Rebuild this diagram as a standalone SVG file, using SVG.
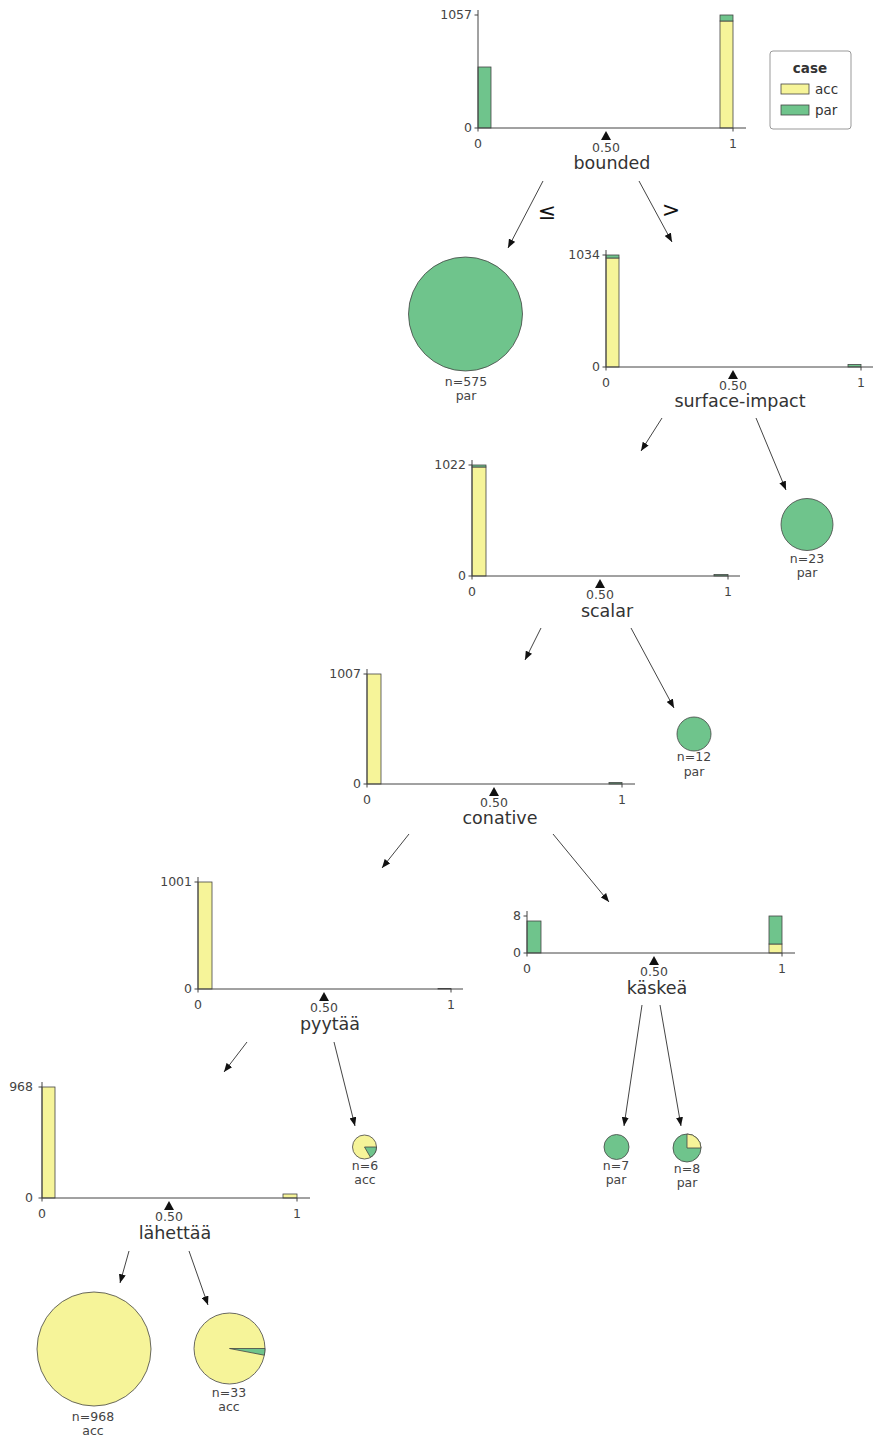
<svg xmlns="http://www.w3.org/2000/svg" width="875" height="1439" viewBox="0 0 875 1439">
<style>
text{font-family:"DejaVu Sans","Liberation Sans",sans-serif;fill:#333}
.tk{font-size:12.5px;fill:#444}
.tr{text-anchor:end}
.tm{text-anchor:middle}
.fn{font-size:17.5px;text-anchor:middle;fill:#333}
.lf{font-size:12.5px;text-anchor:middle;fill:#444}
.ax{stroke:#444;stroke-width:1;fill:none}
.acc{fill:#f6f499;stroke:#444;stroke-width:0.8}
.par{fill:#6fc48c;stroke:#444;stroke-width:0.8}
.tri{fill:#111}
.edge{stroke:#444;stroke-width:1;fill:none;marker-end:url(#ah)}
.lg{font-size:13.5px;fill:#333}
.op{font-size:22px;text-anchor:middle;fill:#111}
</style>
<defs>
<marker id="ah" viewBox="0 0 10 8" refX="10" refY="4" markerWidth="9" markerHeight="7" markerUnits="userSpaceOnUse" orient="auto">
<path d="M0,0 L10,4 L0,8 Z" fill="#111"/>
</marker>
</defs>
<rect width="875" height="1439" fill="#fff"/>

<g id="edges">
<line class="edge" x1="543" y1="181" x2="508" y2="248"/>
<line class="edge" x1="639" y1="181" x2="672" y2="242"/>
<line class="edge" x1="662" y1="418" x2="641" y2="451"/>
<line class="edge" x1="756" y1="418" x2="786" y2="490"/>
<line class="edge" x1="541" y1="628" x2="525" y2="660"/>
<line class="edge" x1="631" y1="628" x2="674" y2="708"/>
<line class="edge" x1="409" y1="834" x2="382" y2="868"/>
<line class="edge" x1="553" y1="834" x2="609" y2="902"/>
<line class="edge" x1="247" y1="1042" x2="224" y2="1072"/>
<line class="edge" x1="334" y1="1042" x2="355" y2="1126"/>
<line class="edge" x1="642" y1="1005" x2="624" y2="1126"/>
<line class="edge" x1="660" y1="1005" x2="681" y2="1126"/>
<line class="edge" x1="129" y1="1251" x2="120" y2="1283"/>
<line class="edge" x1="189" y1="1251" x2="208" y2="1305"/>
<text x="547" y="219" class="op">≤</text>
<text x="671" y="217" class="op">&gt;</text>
</g>

<g id="node-bounded">
<rect class="par" x="478" y="67" width="13" height="61"/>
<rect class="acc" x="720" y="21" width="13" height="107"/>
<rect class="par" x="720" y="15" width="13" height="6"/>
<path class="ax" d="M478,10 V128 H746 M474.5,15 H478 M474.5,128 H478 M478,128 V131.5 M733,128 V131.5"/>
<text class="tk tr" x="472" y="19">1057</text>
<text class="tk tr" x="472" y="132">0</text>
<text class="tk tm" x="478" y="148">0</text>
<text class="tk tm" x="733" y="148">1</text>
<path class="tri" d="M606,131 L611,140 L601,140 Z"/>
<text class="tk tm" x="606" y="152">0.50</text>
<text class="fn" x="612" y="169">bounded</text>
</g>

<g id="legend">
<rect x="770" y="51" width="81" height="78" rx="3" fill="#fff" stroke="#999" stroke-width="1"/>
<text x="810" y="73" class="lg tm" style="font-weight:bold">case</text>
<rect class="acc" x="781" y="84" width="28" height="10"/>
<text x="815" y="94" class="lg">acc</text>
<rect class="par" x="781" y="105" width="28" height="10"/>
<text x="815" y="115" class="lg">par</text>
</g>

<g id="leaf-575">
<circle class="par" cx="465.5" cy="314" r="57"/>
<text class="lf" x="466" y="386">n=575</text>
<text class="lf" x="466" y="400">par</text>
</g>

<g id="node-surface-impact">
<rect class="acc" x="606" y="258" width="13" height="109"/>
<rect class="par" x="606" y="255" width="13" height="3"/>
<rect class="par" x="848" y="364.5" width="13" height="2.5"/>
<path class="ax" d="M606,250 V367 H873 M602.5,255 H606 M602.5,367 H606 M606,367 V370.5 M861,367 V370.5"/>
<text class="tk tr" x="600" y="259">1034</text>
<text class="tk tr" x="600" y="371">0</text>
<text class="tk tm" x="606" y="387">0</text>
<text class="tk tm" x="861" y="387">1</text>
<path class="tri" d="M733,370 L738,379 L728,379 Z"/>
<text class="tk tm" x="733" y="390">0.50</text>
<text class="fn" x="740" y="407">surface-impact</text>
</g>

<g id="leaf-23">
<circle class="par" cx="807" cy="524.5" r="26"/>
<text class="lf" x="807" y="563">n=23</text>
<text class="lf" x="807" y="577">par</text>
</g>

<g id="node-scalar">
<rect class="acc" x="472" y="467" width="14" height="109"/>
<rect class="par" x="472" y="465" width="14" height="2"/>
<rect class="par" x="714" y="574.5" width="14" height="1.5"/>
<path class="ax" d="M472,460 V576 H740 M468.5,465 H472 M468.5,576 H472 M472,576 V579.5 M728,576 V579.5"/>
<text class="tk tr" x="466" y="469">1022</text>
<text class="tk tr" x="466" y="580">0</text>
<text class="tk tm" x="472" y="596">0</text>
<text class="tk tm" x="728" y="596">1</text>
<path class="tri" d="M600,579 L605,588 L595,588 Z"/>
<text class="tk tm" x="600" y="599">0.50</text>
<text class="fn" x="607" y="617">scalar</text>
</g>

<g id="leaf-12">
<circle class="par" cx="694" cy="734" r="17"/>
<text class="lf" x="694" y="761">n=12</text>
<text class="lf" x="694" y="776">par</text>
</g>

<g id="node-conative">
<rect class="acc" x="367" y="674" width="14" height="110"/>
<rect class="par" x="609" y="782.5" width="13" height="1.5"/>
<path class="ax" d="M367,669 V784 H635 M363.5,674 H367 M363.5,784 H367 M367,784 V787.5 M622,784 V787.5"/>
<text class="tk tr" x="361" y="678">1007</text>
<text class="tk tr" x="361" y="788">0</text>
<text class="tk tm" x="367" y="804">0</text>
<text class="tk tm" x="622" y="804">1</text>
<path class="tri" d="M494,787 L499,796 L489,796 Z"/>
<text class="tk tm" x="494" y="807">0.50</text>
<text class="fn" x="500" y="824">conative</text>
</g>

<g id="node-pyytaa">
<rect class="acc" x="198" y="882" width="14" height="107"/>
<rect class="par" x="438" y="988.5" width="13" height="0.5"/>
<path class="ax" d="M198,877 V989 H463 M194.5,882 H198 M194.5,989 H198 M198,989 V992.5 M451,989 V992.5"/>
<text class="tk tr" x="192" y="886">1001</text>
<text class="tk tr" x="192" y="993">0</text>
<text class="tk tm" x="198" y="1009">0</text>
<text class="tk tm" x="451" y="1009">1</text>
<path class="tri" d="M324,992 L329,1001 L319,1001 Z"/>
<text class="tk tm" x="324" y="1012">0.50</text>
<text class="fn" x="330" y="1030">pyytää</text>
</g>

<g id="node-kaskea">
<rect class="par" x="527" y="921" width="14" height="32"/>
<rect class="acc" x="769" y="944" width="13" height="9"/>
<rect class="par" x="769" y="916" width="13" height="28"/>
<path class="ax" d="M527,911 V953 H795 M523.5,916 H527 M523.5,953 H527 M527,953 V956.5 M782,953 V956.5"/>
<text class="tk tr" x="521" y="920">8</text>
<text class="tk tr" x="521" y="957">0</text>
<text class="tk tm" x="527" y="973">0</text>
<text class="tk tm" x="782" y="973">1</text>
<path class="tri" d="M654,956 L659,965 L649,965 Z"/>
<text class="tk tm" x="654" y="976">0.50</text>
<text class="fn" x="657" y="994">käskeä</text>
</g>

<g id="leaf-6">
<circle class="acc" cx="364.5" cy="1147" r="12"/>
<path class="par" d="M364.5,1147 L376.5,1147 A12,12 0 0 1 370.5,1157.39 Z"/>
<text class="lf" x="365" y="1170">n=6</text>
<text class="lf" x="365" y="1184">acc</text>
</g>

<g id="leaf-7">
<circle class="par" cx="616.5" cy="1147" r="12.5"/>
<text class="lf" x="616" y="1170">n=7</text>
<text class="lf" x="616" y="1184">par</text>
</g>

<g id="leaf-8">
<circle class="par" cx="687" cy="1148" r="14"/>
<path class="acc" d="M687,1148 L701,1148 A14,14 0 0 0 687,1134 Z"/>
<text class="lf" x="687" y="1173">n=8</text>
<text class="lf" x="687" y="1187">par</text>
</g>

<g id="node-lahettaa">
<rect class="acc" x="42" y="1087" width="13" height="111"/>
<rect class="acc" x="283" y="1194" width="14" height="4"/>
<path class="ax" d="M42,1082 V1198 H310 M38.5,1087 H42 M38.5,1198 H42 M42,1198 V1201.5 M297,1198 V1201.5"/>
<text class="tk tr" x="33" y="1091">968</text>
<text class="tk tr" x="33" y="1202">0</text>
<text class="tk tm" x="42" y="1218">0</text>
<text class="tk tm" x="297" y="1218">1</text>
<path class="tri" d="M169,1201 L174,1210 L164,1210 Z"/>
<text class="tk tm" x="169" y="1221">0.50</text>
<text class="fn" x="175" y="1239">lähettää</text>
</g>

<g id="leaf-968">
<circle class="acc" cx="94" cy="1349" r="57"/>
<text class="lf" x="93" y="1421">n=968</text>
<text class="lf" x="93" y="1435">acc</text>
</g>

<g id="leaf-33">
<circle class="acc" cx="229.5" cy="1348.5" r="35.5"/>
<path class="par" d="M229.5,1348.5 L265,1348.5 A35.5,35.5 0 0 1 264.36,1355.21 Z"/>
<text class="lf" x="229" y="1397">n=33</text>
<text class="lf" x="229" y="1411">acc</text>
</g>
</svg>
